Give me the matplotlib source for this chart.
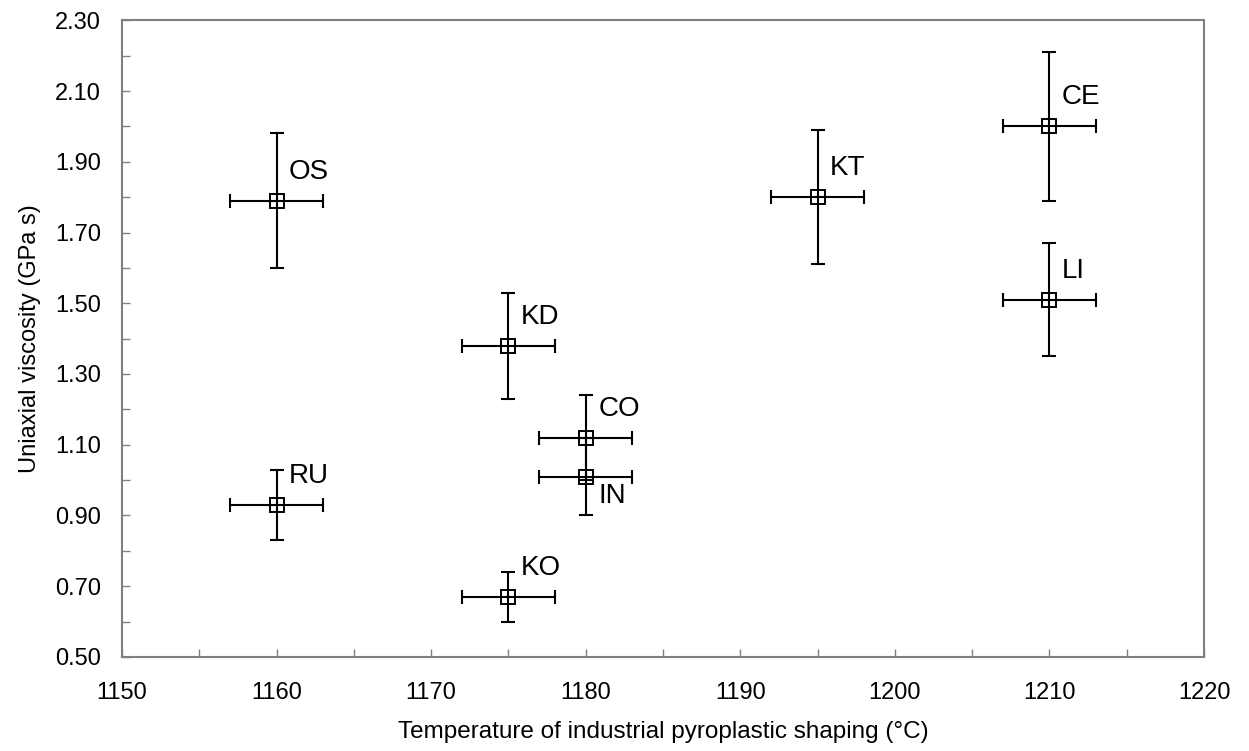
import matplotlib.pyplot as plt
import numpy as np

plt.rcParams['font.family'] = ['Liberation Sans', 'DejaVu Sans']

# data
labels = ['OS', 'RU', 'KD', 'KO', 'CO', 'IN', 'KT', 'CE', 'LI']
temp = [1160, 1160, 1175, 1175, 1180, 1180, 1195, 1210, 1210]
visc = [1.79, 0.93, 1.38, 0.67, 1.12, 1.01, 1.80, 2.00, 1.51]
err_low = [0.19, 0.10, 0.15, 0.07, 0.12, 0.11, 0.19, 0.21, 0.16]
err_high = [0.19, 0.10, 0.15, 0.07, 0.12, 0.11, 0.19, 0.21, 0.16]
temp_err = [3, 3, 3, 3, 3, 3, 3, 3, 3]
# label offsets in points (dx, dy)
offsets = {'IN': (9, -14)}

fig = plt.figure(figsize=(12.49, 7.51), dpi=100)
ax = fig.add_axes([0.0977, 0.1252, 0.8663, 0.8478])

ax.errorbar(temp, visc, yerr=[err_low, err_high], xerr=temp_err,
            fmt='none', ecolor='black', elinewidth=1.5, capsize=5,
            capthick=1.5, zorder=3)
# open squares with the bars crossing them
ax.plot(temp, visc, 's', mfc='none', mec='black', mew=1.4, ms=9.5, zorder=4)

for lab, x, y in zip(labels, temp, visc):
    dx, dy = offsets.get(lab, (9, 21))
    ax.annotate(lab, (x, y), xytext=(dx, dy), textcoords='offset points',
                fontsize=20, ha='left', va='center')

ax.set_xlim(1150, 1220)
ax.set_ylim(0.5, 2.3)
ax.set_xticks(np.arange(1150, 1221, 10))
ax.set_xticks(np.arange(1155, 1220, 10), minor=True)
ax.set_yticks(np.arange(0.5, 2.31, 0.2))
ax.set_yticks(np.arange(0.6, 2.3, 0.2), minor=True)
ax.set_yticklabels(['%.2f' % v for v in np.arange(0.5, 2.31, 0.2)])

ax.tick_params(which='both', direction='in', length=6, width=1,
               color='#808080', labelsize=17, pad=15)
ax.tick_params(axis='x', pad=18)
for s in ax.spines.values():
    s.set_color('#808080')
    s.set_linewidth(1.5)

ax.set_xlabel('Temperature of industrial pyroplastic shaping (°C)', fontsize=17.5, labelpad=12)
ax.set_ylabel('Uniaxial viscosity (GPa s)', fontsize=17, labelpad=10)

fig.savefig('out.png', dpi=100)
